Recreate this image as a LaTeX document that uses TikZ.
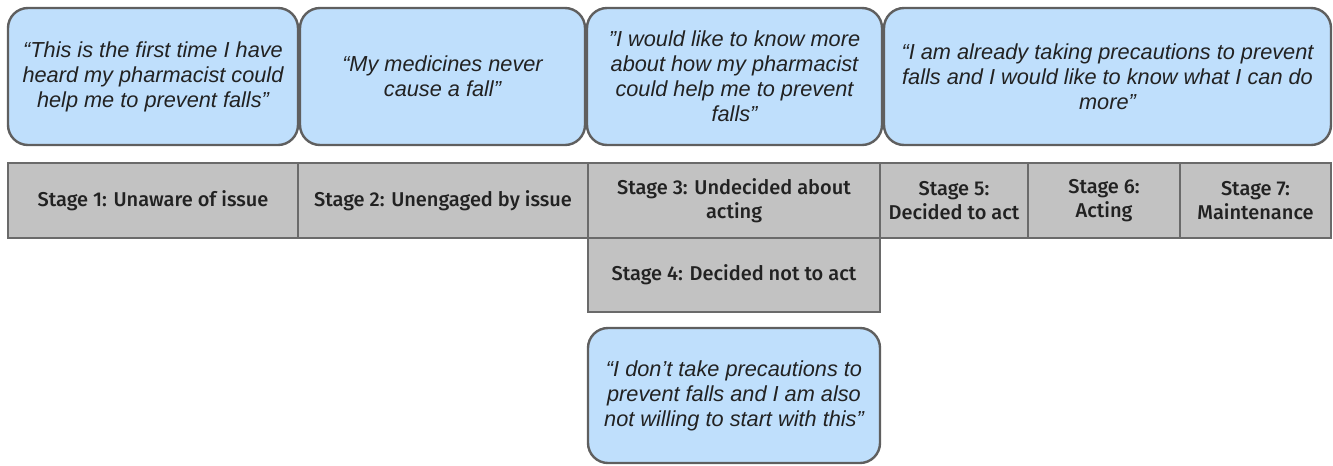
\documentclass[tikz,border=0pt]{standalone}
\usepackage{fontspec}
\setmainfont{Liberation Sans}
\newfontfamily\stagefont{Fira Sans}[UprightFont=* Medium]
\usetikzlibrary{positioning}
\definecolor{quoteblue}{HTML}{BFDFFC}
\definecolor{quoteedge}{HTML}{5F5F5F}
\definecolor{stagegray}{HTML}{C2C2C2}
\definecolor{stageedge}{HTML}{6A6A6A}
\definecolor{inktext}{HTML}{222222}
\tikzset{
	quotebox/.style={rectangle, rounded corners=15pt, draw=quoteedge, fill=quoteblue, line width=1.8pt, inner sep=0pt, align=center, text=inktext, font=\fontsize{16.3}{18.75}\selectfont\itshape, minimum height=102.75pt},
	stagebox/.style={rectangle, draw=stageedge, fill=stagegray, line width=1.8pt, inner sep=0pt, align=center, text=inktext, font=\stagefont\fontsize{15}{18}\selectfont, minimum height=56.25pt}
}

\begin{document}
\begin{tikzpicture}[x=0.75pt,y=-0.75pt]
	\useasboundingbox (0,0) rectangle (1333,465);
	
	% Estagios
	\node[stagebox, minimum width=217.5pt] (s1) at (153,200.5) {Stage 1: Unaware of issue};
	\node[stagebox, minimum width=217.5pt] (s2) at (443,200.5) {Stage 2: Unengaged by issue};
	\node[stagebox, minimum width=219pt] (s3) at (734,200.5) {Stage 3: Undecided about\\acting};
	\node[stagebox, minimum width=111pt] (s5) at (954,200.5) {Stage 5:\\Decided to act};
	\node[stagebox, minimum width=114pt] (s6) at (1104,200.5) {Stage 6:\\Acting};
	\node[stagebox, minimum width=113.25pt] (s7) at (1255.5,200.5) {Stage 7:\\Maintenance};
	\node[stagebox, minimum width=219pt, minimum height=55.5pt] (s4) at (734,275) {Stage 4: Decided not to act};
	
	% Citacoes
	\node[quotebox, minimum width=217.5pt] (q1) at (153,76.5) {“This is the first time I have\\heard my pharmacist could\\help me to prevent falls”};
	\node[quotebox, minimum width=213.75pt] (q2) at (442.5,76.5) {“My medicines never\\cause a fall”};
	\node[quotebox, minimum width=221.25pt] (q3) at (734.5,76.5) {\symbol{34}I would like to know more\\about how my pharmacist\\could help me to prevent\\falls\symbol{34}};
	\node[quotebox, minimum width=335.25pt] (q4) at (1107.5,76.5) {“I am already taking precautions to prevent\\falls and I would like to know what I can do\\more”};
	\node[quotebox, minimum width=219pt, minimum height=101.25pt] (q5) at (734,395.5) {“I don’t take precautions to\\prevent falls and I am also\\not willing to start with this”};
	
\end{tikzpicture}
\end{document}
